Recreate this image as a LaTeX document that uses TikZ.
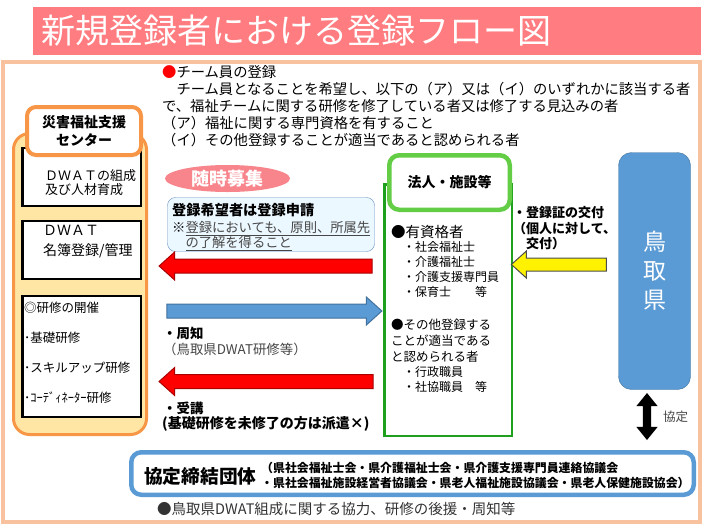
\documentclass[tikz,border=0pt]{standalone}
\usepackage{fontspec}
\setmainfont{Noto Sans CJK JP}
\usetikzlibrary{shapes.geometric, shapes.arrows, positioning}
\definecolor{titlepink}{RGB}{255,124,128}
\definecolor{framepeach}{RGB}{249,194,158}
\definecolor{centerorange}{RGB}{247,150,70}
\definecolor{centerfill}{RGB}{255,230,165}
\definecolor{corpgreen}{RGB}{30,160,30}
\definecolor{labelgreen}{RGB}{100,205,70}
\definecolor{prefblue}{RGB}{91,155,213}
\definecolor{prefborder}{RGB}{65,113,156}
\definecolor{applyfill}{RGB}{236,248,255}
\definecolor{applyborder}{RGB}{100,140,190}
\definecolor{ovalpink}{RGB}{248,132,140}
\definecolor{darkred}{RGB}{170,0,0}
\definecolor{notegray}{RGB}{70,70,70}

\begin{document}
\begin{tikzpicture}[x=1pt, y=-1pt,
    every node/.style={inner sep=0pt},
    innerbox/.style={draw, line width=2.5pt, fill=white, minimum width=118.5},
    fatarrow/.style={single arrow, single arrow head extend=7pt, single arrow tip angle=84, inner sep=6.5pt, line width=1pt},
    txt/.style={anchor=west, font=\fontsize{#1}{#1}\selectfont},
    bold/.style={anchor=west, font=\bfseries\fontsize{#1}{#1}\selectfont}
]
    \useasboundingbox (0,0) rectangle (710,531);

    % Frame and title
    \draw[framepeach, line width=4pt] (2.5,61.5) rectangle (699.5,522);
    \node[fill=titlepink, minimum width=668, minimum height=48] (title) at (367,31) {};
    \node[txt=34, text=white] (titletext) at (41,31) {新規登録者における登録フロー図};

    % Team member registration
    \node[anchor=north west, align=left, font=\fontsize{14.3}{17}\selectfont] (teamtext) at (162,65.5)
        {{\color{red}●}チーム員の登録\\
         　チーム員となることを希望し、以下の（ア）又は（イ）のいずれかに該当する者\\
         で、福祉チームに関する研修を修了している者又は修了する見込みの者\\
         （ア）福祉に関する専門資格を有すること\\
         （イ）その他登録することが適当であると認められる者};

    % Support center
    \node[draw=centerorange, fill=centerfill, line width=3pt, rounded corners=16pt,
        minimum width=133, minimum height=301] (center) at (80,284) {};
    \node[innerbox, minimum height=58] (formbox) at (81.5,177) {};
    \node[innerbox, minimum height=58] (rosterbox) at (81.5,250) {};
    \node[innerbox, minimum height=121] (trainbox) at (81.5,356.5) {};
    \node[draw=centerorange, fill=white, line width=4pt, rounded corners=9pt, minimum width=114,
        minimum height=48, align=center, font=\bfseries\fontsize{14}{18}\selectfont] (centerlabel) at (84,131)
        {災害福祉支援\\センター};
    \node[anchor=west, align=left, font=\fontsize{13}{14}\selectfont] (formtext) at (45,183)
        {ＤＷＡＴの組成\\及び人材育成};
    \node[anchor=west, align=left, font=\fontsize{14}{20}\selectfont] (rostertext) at (43,242)
        {ＤＷＡＴ\\名簿登録/管理};
    \node[txt=12.5] (trainhead) at (24,308) {◎研修の開催};
    \node[txt=12.5] (trainbasic) at (24,338) {･基礎研修};
    \node[txt=12.5] (trainskill) at (24,368) {･スキルアップ研修};
    \node[txt=12.5] (traincoord) at (24,398) {･ｺｰﾃﾞｨﾈｰﾀｰ研修};

    % Application
    \node[ellipse, fill=ovalpink, minimum width=125, minimum height=27, text=white,
        font=\bfseries\fontsize{18}{18}\selectfont] (recruit) at (227.5,178.5) {随時募集};
    \node[draw=applyborder, fill=applyfill, rounded corners=8pt, minimum width=207, minimum height=54] (apply) at (271,224.5) {};
    \node[bold=14.2] (applytitle) at (172,210) {登録希望者は登録申請};
    \node[anchor=north west, align=left, font=\fontsize{13.3}{14.5}\selectfont, text=notegray] (applynote) at (172,221.5)
        {{\color{black}※}\underline{登録においても、原則、所属先}\\　\underline{の了解を得ること}};

    % Arrows between center and corporations
    \node[fatarrow, fill=red, draw=darkred, minimum height=213, shape border rotate=180] (applyarrow) at (269.5,266) {};
    \node[fatarrow, fill=prefblue, draw=prefborder, minimum height=215] (noticearrow) at (270.5,311) {};
    \node[fatarrow, fill=red, draw=darkred, minimum height=214, shape border rotate=180] (attendarrow) at (270,381.5) {};
    \node[bold=13.4] (noticelabel) at (163,333) {・周知};
    \node[txt=13.4, text=notegray] (noticenote) at (163,349) {（鳥取県DWAT研修等）};
    \node[bold=13.4] (attendlabel) at (163,408) {・受講};
    \node[bold=14] (attendnote) at (162,424) {(基礎研修を未修了の方は派遣×)};

    % Corporations
    \node[draw=corpgreen, line width=2.5pt, minimum width=127.5, minimum height=251.5] (corp) at (448,310) {};
    \node[draw=labelgreen, fill=white, line width=4.5pt, rounded corners=10pt, minimum width=120.5,
        minimum height=54.5, font=\bfseries\fontsize{14}{14}\selectfont] (corplabel) at (449.5,182.5) {法人・施設等};
    \node[txt=14.5] (qualhead) at (391,232) {●有資格者};
    \node[anchor=north west, align=left, font=\fontsize{12}{15}\selectfont] (quallist) at (403,241.5)
        {・社会福祉士\\・介護福祉士\\・介護支援専門員\\・保育士　　等};
    \node[anchor=north west, align=left, font=\fontsize{12.5}{16}\selectfont] (otherhead) at (391,319)
        {●その他登録する\\ことが適当である\\と認められる者};
    \node[anchor=north west, align=left, font=\fontsize{12}{15}\selectfont] (otherlist) at (403,366.5)
        {・行政職員\\・社協職員　等};

    % Prefecture
    \node[draw=prefborder, fill=prefblue, rounded corners=13pt, minimum width=72, minimum height=237,
        text=white, align=center, font=\fontsize{23}{29}\selectfont] (tottori) at (654.5,271) {鳥\\取\\県};
    \node[fatarrow, fill=yellow, draw=black!70, minimum height=95, inner sep=6pt, shape border rotate=180] (certarrow) at (562.5,264.5) {};
    \node[anchor=north west, align=left, font=\bfseries\fontsize{13}{15.5}\selectfont] (certlabel) at (513,206.5)
        {・登録証の交付\\（個人に対して、\\　交付）};
    \node[double arrow, fill=black, minimum height=47, inner sep=4pt, double arrow head extend=6.5pt,
        double arrow tip angle=78, shape border rotate=90] (agreearrow) at (647,416.5) {};
    \node[txt=12.5, text=notegray] (agreelabel) at (663,417) {協定};

    % Partner organizations
    \node[draw=prefblue, line width=4.5pt, fill=white, rounded corners=10pt, minimum width=562.5,
        minimum height=42.5] (partners) at (412.5,473.5) {};
    \node[bold=18.7] (partnerhead) at (144,476) {協定締結団体};
    \node[anchor=west, align=left, font=\bfseries\fontsize{11.9}{15}\selectfont] (partnerlist) at (261,475.5)
        {（県社会福祉士会・県介護福祉士会・県介護支援専門員連絡協議会\\
         ・県社会福祉施設経営者協議会・県老人福祉施設協議会・県老人保健施設協会）};
    \node[txt=14.5, text=black!80] (support) at (157,509) {●鳥取県DWAT組成に関する協力、研修の後援・周知等};
\end{tikzpicture}
\end{document}
